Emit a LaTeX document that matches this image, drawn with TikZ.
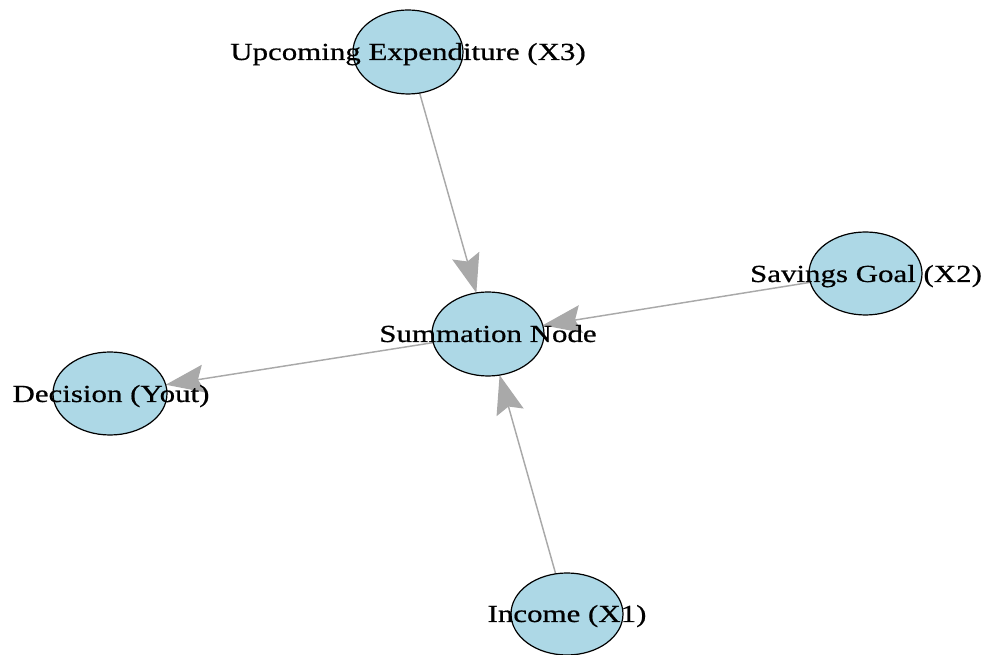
\documentclass[tikz,border=0pt]{standalone}
\usepackage{fontspec}
\newfontfamily\lblfont{Liberation Serif}[FakeStretch=1.26,FakeBold=0.6]
\usetikzlibrary{shapes.geometric,arrows.meta,backgrounds}
\definecolor{nodefill}{HTML}{ADD8E6}
\definecolor{edgegray}{HTML}{A9A9A9}
\begin{document}
\begin{tikzpicture}[x=0.75pt,y=-0.75pt,
  vtx/.style={ellipse,draw=black,line width=0.9pt,fill=nodefill,inner sep=0pt,outer sep=0pt},
  lbl/.style={anchor=base,inner sep=0pt,font=\lblfont\fontsize{18.4}{22}\selectfont,text=black},
  edge/.style={draw=edgegray,line width=1.1pt,-{Stealth[length=29pt,width=21pt,inset=4.5pt]}}]
\useasboundingbox (0,0) rectangle (986,655);
% vertices
\node[vtx,minimum width=82.5pt,minimum height=63pt] (x3) at (408,52) {};
\node[vtx,minimum width=84pt,minimum height=63pt] (sum) at (488,334) {};
\node[vtx,minimum width=84.75pt,minimum height=62.25pt] (x2) at (865.5,273.5) {};
\node[vtx,minimum width=85.5pt,minimum height=62.25pt] (dec) at (110,393.5) {};
\node[vtx,minimum width=84pt,minimum height=61.5pt] (x1) at (567,614) {};
% edges (drawn below the vertices)
\begin{pgfonlayer}{background}
\draw[edge] (x3) -- (sum);
\draw[edge] (x2) -- (sum);
\draw[edge] (x1) -- (sum);
\draw[edge] (sum) -- (dec);
\end{pgfonlayer}
% labels
\node[lbl] (lx3) at (408,60) {Upcoming Expenditure (X3)};
\node[lbl] (lsum) at (488,342) {Summation Node};
\node[lbl] (lx2) at (866,282) {Savings Goal (X2)};
\node[lbl] (ldec) at (111,402) {Decision (Yout)};
\node[lbl] (lx1) at (567,622) {Income (X1)};
\end{tikzpicture}
\end{document}
